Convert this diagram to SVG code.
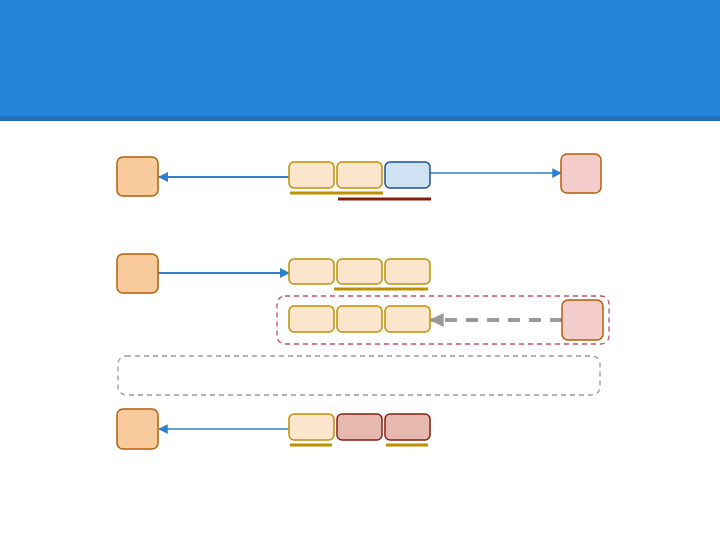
<svg xmlns="http://www.w3.org/2000/svg" width="720" height="540" viewBox="0 0 720 540">
<style>
.src{fill:#f9cb9c;stroke:#b45f06;stroke-width:1.5}
.dst{fill:#f4cccc;stroke:#b45f06;stroke-width:1.5}
.cell{fill:#fce5cd;stroke:#bf9000;stroke-width:1.5}
.blue{fill:#cfe2f3;stroke:#1c4f8a;stroke-width:1.5}
.red{fill:#e6b8af;stroke:#85200c;stroke-width:1.5}
.gold{stroke:#bf9000;stroke-width:3}
.dred{stroke:#85200c;stroke-width:3}
.conn{stroke:#2f80cc;fill:none}
</style>
<defs>
<marker id="ab" viewBox="0 0 10 10" refX="9" refY="5" markerWidth="5" markerHeight="5" orient="auto"><path d="M0,0 L10,5 L0,10 z" fill="#2f80cc"/></marker>
<marker id="abt" viewBox="0 0 10 10" refX="9" refY="5" markerWidth="7.5" markerHeight="7.5" orient="auto"><path d="M0,0 L10,5 L0,10 z" fill="#2f80cc"/></marker>
<marker id="ag" viewBox="0 0 10 10" refX="9" refY="5" markerWidth="3.5" markerHeight="3.5" orient="auto"><path d="M0,0 L10,5 L0,10 z" fill="#999999"/></marker>
</defs>
<rect x="0" y="0" width="720" height="117" fill="#2285da"/>
<rect x="0" y="116" width="720" height="5" fill="#1f70b8"/>
<g id="groups">
<rect x="277" y="296" width="332" height="48" rx="8" fill="none" stroke="#c0506a" stroke-width="1.3" stroke-dasharray="5,4"/>
<rect x="118" y="356" width="482" height="39" rx="8" fill="none" stroke="#999999" stroke-width="1.3" stroke-dasharray="5,4"/>
</g>
<g id="connectors">
<line class="conn" x1="289" y1="177" x2="159" y2="177" stroke-width="2" marker-end="url(#ab)"/>
<line class="conn" x1="430" y1="173" x2="561" y2="173" stroke-width="1.3" marker-end="url(#abt)"/>
<line class="conn" x1="158" y1="273" x2="289" y2="273" stroke-width="2" marker-end="url(#ab)"/>
<line x1="562" y1="320" x2="431" y2="320" stroke="#999999" stroke-width="4" stroke-dasharray="12,9" marker-end="url(#ag)"/>
<line class="conn" x1="289" y1="429" x2="159" y2="429" stroke-width="1.3" marker-end="url(#abt)"/>
</g>
<g id="row1">
<rect id="n1" class="src" x="117" y="157" width="41" height="39" rx="6"/>
<rect class="cell" x="289" y="162" width="45" height="26" rx="5"/>
<rect class="cell" x="337" y="162" width="45" height="26" rx="5"/>
<rect class="blue" x="385" y="162" width="45" height="26" rx="5"/>
<rect id="n2" class="dst" x="561" y="154" width="40" height="39" rx="6"/>
<line class="gold" x1="290" y1="193" x2="383" y2="193"/>
<line class="dred" x1="338" y1="199" x2="431" y2="199"/>
</g>
<g id="row2">
<rect id="n3" class="src" x="117" y="254" width="41" height="39" rx="6"/>
<rect class="cell" x="289" y="259" width="45" height="25" rx="5"/>
<rect class="cell" x="337" y="259" width="45" height="25" rx="5"/>
<rect class="cell" x="385" y="259" width="45" height="25" rx="5"/>
<line class="gold" x1="334" y1="289" x2="428" y2="289"/>
</g>
<g id="row2b">
<rect class="cell" x="289" y="306" width="45" height="26" rx="5"/>
<rect class="cell" x="337" y="306" width="45" height="26" rx="5"/>
<rect class="cell" x="385" y="306" width="45" height="26" rx="5"/>
<rect id="n4" class="dst" x="562" y="300" width="41" height="40" rx="6"/>
</g>
<g id="row3">
<rect id="n5" class="src" x="117" y="409" width="41" height="40" rx="6"/>
<rect class="cell" x="289" y="414" width="45" height="26" rx="5"/>
<rect class="red" x="337" y="414" width="45" height="26" rx="5"/>
<rect class="red" x="385" y="414" width="45" height="26" rx="5"/>
<line class="gold" x1="290" y1="445" x2="332" y2="445"/>
<line class="gold" x1="386" y1="445" x2="428" y2="445"/>
</g>
</svg>
